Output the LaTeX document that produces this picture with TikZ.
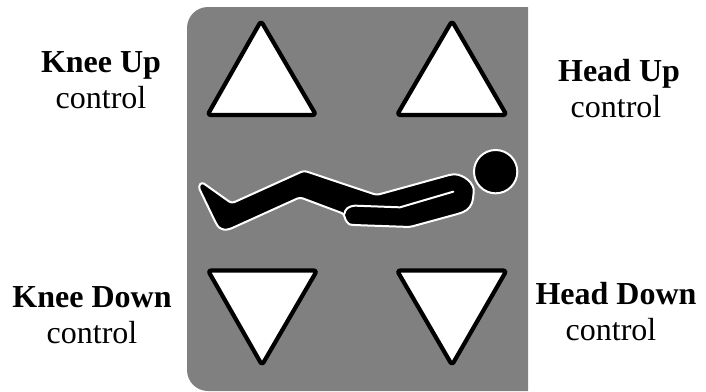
\documentclass[tikz,border=0pt]{standalone}
\usepackage{fontspec}
\setmainfont{Liberation Serif}
\tikzset{
  btn/.style={draw=black,fill=white,line width=4.2pt,rounded corners=3pt,line join=round},
  lbl/.style={align=center,inner sep=0pt,font=\fontsize{32}{36}\selectfont},
  figure/.style={draw=white,fill=black,line width=2pt,line join=round}
}
\begin{document}
\begin{tikzpicture}[x=1pt,y=-1pt]
\useasboundingbox (0,0) rectangle (706,391);
\fill[white] (0,0) rectangle (706,391);
\fill[black!50!white] (528,7) -- (528,391) [rounded corners=21pt] -- (187,391) -- (187,7) [sharp corners] -- cycle;
% triangles
\draw[btn] (261,21) -- (316,115) -- (207.5,115) -- cycle;
\draw[btn] (452,21) -- (506.5,115) -- (397,115) -- cycle;
\draw[btn] (208,270.5) -- (317,270.5) -- (262,365) -- cycle;
\draw[btn] (397,270.5) -- (506.5,270.5) -- (452,365) -- cycle;
% figure
\begin{scope}[shift={(180,130)},x=0.3333pt,y=-0.3333pt]
\draw[figure,rounded corners=3pt] (65,156) -- (155,220) -- (372,122) -- (590,195) -- (815,133) .. controls (850,133) and (885,160) .. (880,195) .. controls (878,225) and (865,240) .. (840,250) -- (690,291) -- (520,285) .. controls (505,283) and (495,270) .. (493,252) -- (360,202) -- (148,298) .. controls (130,300) and (118,295) .. (108,280) -- (55,170) -- cycle;
\draw[white,line width=2pt,line cap=round,line join=round] (493,252) .. controls (495,238) and (505,228) .. (525,227) -- (660,232) -- (820,185);
\draw[figure] (947,125) circle[radius=65];
\end{scope}
% labels
\node[lbl] (kneeup) at (101,80) {\textbf{Knee Up}\\control};
\node[lbl] (headup) at (619,89) {\textbf{Head Up}\\control\hspace*{6pt}};
\node[lbl] (kneedown) at (92,315) {\textbf{Knee Down}\\control};
\node[lbl] (headdown) at (616,312) {\textbf{Head Down}\\control\hspace*{10pt}};
\end{tikzpicture}
\end{document}
